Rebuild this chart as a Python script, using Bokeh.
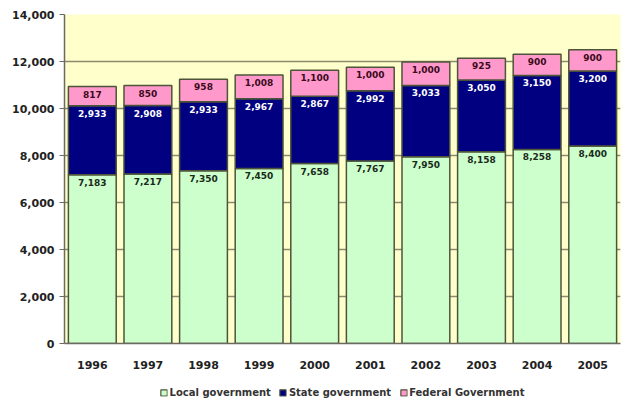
from bokeh.plotting import figure
from bokeh.layouts import column
from bokeh.models import ColumnDataSource, FactorRange, Range1d, Legend, LegendItem, NumeralTickFormatter, FixedTicker
from bokeh.core.properties import value
from bokeh.embed import file_html
from bokeh.resources import INLINE

years = ["1996", "1997", "1998", "1999", "2000", "2001", "2002", "2003", "2004", "2005"]
local_gov = [7183, 7217, 7350, 7450, 7658, 7767, 7950, 8158, 8258, 8400]
state_gov = [2933, 2908, 2933, 2967, 2867, 2992, 3033, 3050, 3150, 3200]
federal_gov = [817, 850, 958, 1008, 1100, 1000, 1000, 925, 900, 900]
series_names = ["Local government", "State government", "Federal Government"]
y_ticks = [0, 2000, 4000, 6000, 8000, 10000, 12000, 14000]

FONT = "DejaVu Sans"
colors = ["#CCFFCC", "#000080", "#FF99CC"]
outline = "#4d5438"

src = ColumnDataSource(dict(
    years=years, local=local_gov, state=state_gov, federal=federal_gov,
    local_top=local_gov,
    state_top=[a + b for a, b in zip(local_gov, state_gov)],
    fed_top=[a + b + c for a, b, c in zip(local_gov, state_gov, federal_gov)],
    local_lbl=[f"{v:,}" for v in local_gov],
    state_lbl=[f"{v:,}" for v in state_gov],
    fed_lbl=[f"{v:,}" for v in federal_gov],
))

p = figure(x_range=FactorRange(*years, range_padding=0.0), y_range=Range1d(0, 14000),
           width=621, height=380, output_backend="svg", toolbar_location=None,
           min_border_left=64, min_border_right=1, min_border_top=14, min_border_bottom=37)
p.background_fill_color = "#FFFFCC"
p.border_fill_color = "white"
p.outline_line_color = None

p.vbar_stack(["local", "state", "federal"], x="years", width=0.86, source=src,
             color=colors, line_color=outline, line_width=1.5)

p.text(x="years", y="local_top", text="local_lbl", source=src, text_align="center",
       text_baseline="top", y_offset=4, text_font=value(FONT), text_font_style="bold",
       text_font_size="9px", text_color="#1a2a1a")
p.text(x="years", y="state_top", text="state_lbl", source=src, text_align="center",
       text_baseline="top", y_offset=4, text_font=value(FONT), text_font_style="bold",
       text_font_size="9px", text_color="white")
p.text(x="years", y="fed_top", text="fed_lbl", source=src, text_align="center",
       text_baseline="top", y_offset=4, text_font=value(FONT), text_font_style="bold",
       text_font_size="9px", text_color="#3a0a1a")

p.ygrid.ticker = FixedTicker(ticks=y_ticks)
p.ygrid.grid_line_color = "#8a8a70"
p.ygrid.grid_line_width = 1.5
p.xgrid.grid_line_color = None

p.yaxis.ticker = FixedTicker(ticks=y_ticks)
p.yaxis.formatter = NumeralTickFormatter(format="0,0")
p.yaxis.major_label_text_font = FONT
p.yaxis.major_label_text_font_style = "bold"
p.yaxis.major_label_text_font_size = "11px"
p.yaxis.major_label_text_color = "#222222"
p.yaxis.axis_line_color = "#6a6a60"
p.yaxis.axis_line_width = 1.5
p.yaxis.major_tick_line_color = "#6a6a60"
p.yaxis.major_tick_in = 0
p.yaxis.major_tick_out = 5
p.yaxis.minor_tick_line_color = None

p.xaxis.major_label_text_font = FONT
p.xaxis.major_label_text_font_style = "bold"
p.xaxis.major_label_text_font_size = "11px"
p.xaxis.major_label_text_color = "#222222"
p.xaxis.axis_line_color = "#6a6a60"
p.xaxis.axis_line_width = 1.5
p.xaxis.major_tick_line_color = None
p.xaxis.major_tick_out = 0
p.xaxis.major_label_standoff = 17

# legend strip below the chart
lg = figure(width=621, height=24, output_backend="svg", toolbar_location=None,
            x_range=Range1d(0, 1), y_range=Range1d(0, 1),
            min_border_left=64, min_border_right=1, min_border_top=0, min_border_bottom=0)
lg.axis.visible = False
lg.grid.visible = False
lg.outline_line_color = None
items = []
for name, c in zip(series_names, colors):
    # swatch-only renderer, its single bar lies outside the visible range
    r = lg.vbar(x=[-10], top=[-10], width=0.5, fill_color=c, line_color=outline, line_width=1.2)
    items.append(LegendItem(label=name, renderers=[r]))
legend = Legend(items=items, orientation="horizontal", location="center",
                label_text_font=FONT, label_text_font_style="bold",
                label_text_font_size="10px", label_text_color="#333333",
                glyph_width=8, glyph_height=8, spacing=8, label_standoff=2,
                padding=2, margin=0, border_line_color=None, background_fill_alpha=0)
lg.add_layout(legend, "center")

open("out.html", "w").write(file_html(column(p, lg, spacing=0), INLINE))
